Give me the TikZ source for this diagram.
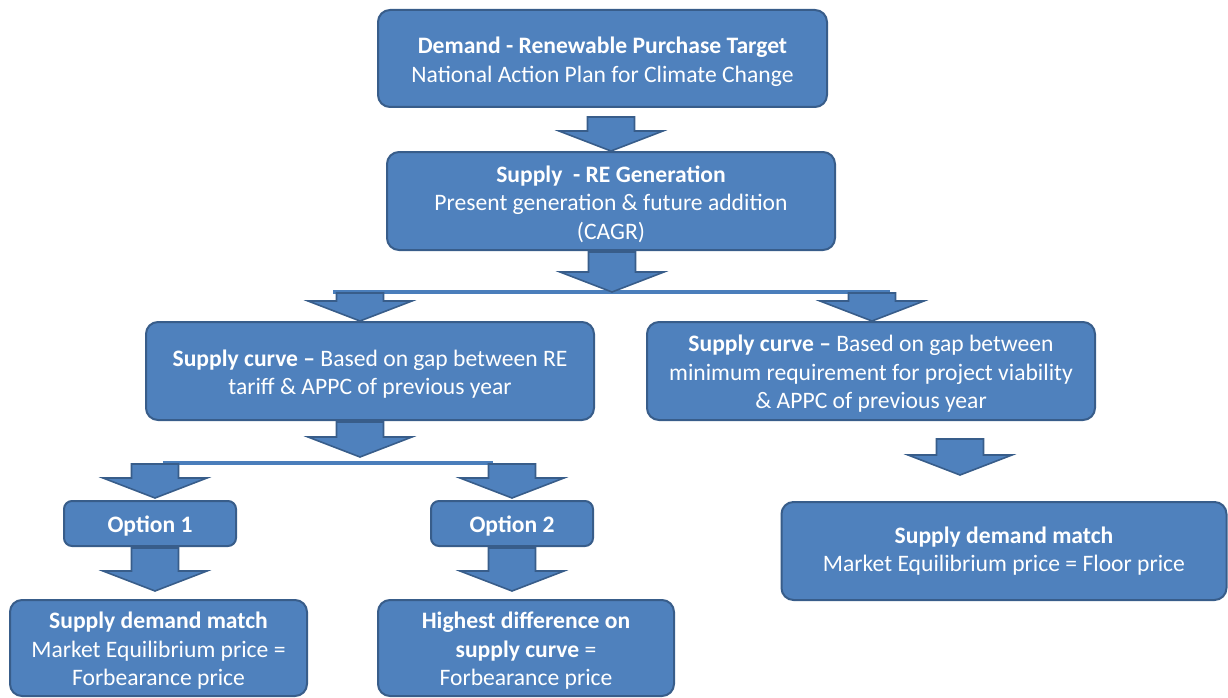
\documentclass[tikz,border=0pt]{standalone}
\usepackage{fontspec}
\setmainfont{Carlito}
\usetikzlibrary{calc}
\definecolor{boxfill}{HTML}{4F81BD}
\definecolor{boxline}{HTML}{385D8A}
\definecolor{barcol}{HTML}{4A7EBB}
\tikzset{
  box/.style={draw=boxline, line width=2pt, fill=boxfill, rounded corners=12pt, inner sep=0pt},
  txt/.style={text=white, align=center, inner sep=0pt, yshift=-3pt,
    font=\fontsize{23.6}{28.5}\selectfont},
  barrow/.style={draw=boxline, line width=1.6pt, fill=boxfill, line join=miter},
  hbar/.style={draw=barcol, line width=3.5pt},
}
\newcommand\blockarrow[2]{\draw[barrow] let \p1=#1, \p2=#2 in
  (\x1-23.5pt,\y1) -- (\x1+23.5pt,\y1) -- (\x1+23.5pt,\y2+20pt) -- (\x1+52pt,\y2+20pt)
  -- (\x1,\y2) -- (\x1-52pt,\y2+20pt) -- (\x1-23.5pt,\y2+20pt) -- cycle;}
\begin{document}
\begin{tikzpicture}[x=1pt,y=-1pt]
\useasboundingbox (0,0) rectangle (1228,698);
% boxes
\node[box, minimum width=449, minimum height=97,
  label={[txt]center:{\textbf{Demand - Renewable Purchase Target}\\National Action Plan for Climate Change}}]
  (top) at (602.5,58.5) {};
\node[box, minimum width=448, minimum height=98,
  label={[txt]center:{\textbf{Supply~ - RE Generation}\\Present generation \& future addition\\(CAGR)}}]
  (supply) at (611,201) {};
\node[box, minimum width=448, minimum height=98,
  label={[txt]center:{\textbf{Supply curve –} Based on gap between RE\\tariff \& APPC of previous year}}]
  (lsc) at (370,371) {};
\node[box, minimum width=448, minimum height=98,
  label={[txt]center:{\textbf{Supply curve –} Based on gap between\\minimum requirement for project viability\\\& APPC of previous year}}]
  (rsc) at (871,371) {};
\node[box, minimum width=172, minimum height=45, rounded corners=8pt,
  label={[txt]center:{\textbf{Option 1}}}] (opt1) at (150,523.5) {};
\node[box, minimum width=162, minimum height=45, rounded corners=8pt,
  label={[txt]center:{\textbf{Option 2}}}] (opt2) at (512,523.5) {};
\node[box, minimum width=297, minimum height=96,
  label={[txt]center:{\textbf{Supply demand match}\\Market Equilibrium price =\\Forbearance price}}]
  (bl) at (158.5,648) {};
\node[box, minimum width=296, minimum height=96,
  label={[txt]center:{\textbf{Highest difference on}\\\textbf{supply curve} =\\Forbearance price}}]
  (bm) at (526,648) {};
\node[box, minimum width=445, minimum height=98,
  label={[txt, yshift=3pt]center:{\textbf{Supply demand match}\\Market Equilibrium price = Floor price}}]
  (br) at (1004,551) {};
% bars
\coordinate (barL) at (333,292);
\coordinate (barR) at (890,292);
\coordinate (barM) at (612,292);
\coordinate (bar2L) at (163,463);
\coordinate (bar2R) at (493,463);
\coordinate (bar2M) at (360,463);
\draw[hbar] (barL) -- (barR);
\draw[hbar] (bar2L) -- (bar2R);
% block arrows
\blockarrow{($(supply.north |- top.south)+(0,9)$)}{(supply.north)}
\blockarrow{($(barM |- supply.south)+(0,1)$)}{(barM)}
\blockarrow{($(360,0 |- barL)+(0,1)$)}{($(360,0 |- lsc.north)$)}
\blockarrow{($(872,0 |- barR)+(0,1)$)}{($(872,0 |- rsc.north)$)}
\blockarrow{($(bar2M |- lsc.south)+(0,1)$)}{($(bar2M)+(0,-6)$)}
\blockarrow{($(155,0 |- bar2L)+(0,1)$)}{($(155,0 |- opt1.north)+(0,-2)$)}
\blockarrow{($(opt2.north |- bar2R)+(0,1)$)}{($(opt2.north)+(0,-2)$)}
\blockarrow{($(155,0 |- opt1.south)+(0,1)$)}{($(155,0 |- bl.north)+(0,-8)$)}
\blockarrow{($(opt2.south)+(0,1)$)}{($(opt2.south |- bm.north)+(0,-8)$)}
\blockarrow{($(960,0 |- rsc.south)+(0,18)$)}{($(960,0 |- br.north)+(0,-26)$)}
\end{tikzpicture}
\end{document}
